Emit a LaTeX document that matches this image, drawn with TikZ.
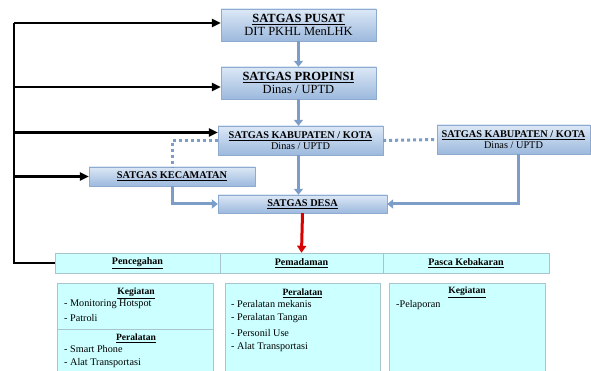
\documentclass[tikz,border=0pt]{standalone}
\usepackage{fontspec}
\setmainfont{Liberation Serif}
\usetikzlibrary{arrows.meta}
\definecolor{boxtop}{HTML}{DCE8F6}
\definecolor{boxbot}{HTML}{9CB9DD}
\definecolor{boxline}{HTML}{8FAACF}
\definecolor{flow}{HTML}{7B9DC8}
\definecolor{cellfill}{HTML}{CCFFFF}
\definecolor{cellline}{HTML}{A8C4CC}
\tikzstyle{satgas} = [rectangle, align=center, draw=boxline, top color=boxtop, bottom color=boxbot, inner sep=0pt]
\tikzstyle{cell} = [rectangle, draw=cellline, fill=cellfill, inner sep=0pt, minimum height=20pt, font=\fontsize{10}{10}\selectfont\bfseries]
\tikzstyle{panel} = [rectangle, draw=cellline, fill=cellfill, inner sep=0pt, anchor=north west]
\tikzstyle{arrow} = [line width=3pt, draw=flow, -{Triangle[width=9pt,length=6pt]}]
\tikzstyle{dotline} = [line width=3pt, draw=flow, dash pattern=on 3pt off 3pt]
\tikzstyle{blackarrow} = [line width=2.2pt, -{Triangle[width=8pt,length=9pt]}]
\tikzstyle{redarrow} = [line width=3pt, draw=red!85!black, -{Triangle[width=9pt,length=7pt]}]
\tikzstyle{item} = [anchor=west, inner sep=0pt, font=\fontsize{10.2}{11}\selectfont]
\tikzstyle{title} = [inner sep=0pt, font=\fontsize{9.6}{10}\selectfont\bfseries]

\begin{document}
\begin{tikzpicture}[x=1pt, y=-1pt]
\useasboundingbox (0,0) rectangle (591,371);
\clip (0,0) rectangle (591,371);

\node(pusat) [satgas, minimum width=155pt, minimum height=32pt, font=\fontsize{12.5}{12.5}\selectfont] at (298.5,25) {\underline{\textbf{SATGAS PUSAT}}\\DIT PKHL MenLHK};
\node(propinsi) [satgas, minimum width=155pt, minimum height=32pt, font=\fontsize{12.5}{12.5}\selectfont] at (298.5,83) {\underline{\textbf{SATGAS PROPINSI}}\\Dinas / UPTD};
\node(kabkota) [satgas, minimum width=165pt, minimum height=29pt, font=\fontsize{10.3}{10.5}\selectfont] at (300.5,140.5) {\underline{\textbf{SATGAS KABUPATEN / KOTA}}\\Dinas / UPTD};
\node(kabkota2) [satgas, minimum width=153pt, minimum height=29pt, font=\fontsize{10.3}{10.5}\selectfont] at (513.5,139.5) {\underline{\textbf{SATGAS KABUPATEN / KOTA}}\\Dinas / UPTD};
\node(kecamatan) [satgas, minimum width=166pt, minimum height=19pt, font=\fontsize{10.3}{10.5}\selectfont] at (172,176.5) {\underline{\textbf{SATGAS KECAMATAN}}};
\node(desa) [satgas, minimum width=169pt, minimum height=18pt, font=\fontsize{10.3}{10.5}\selectfont] at (302.5,204) {\underline{\textbf{SATGAS DESA}}};

\node(cegah) [cell, minimum width=165pt] at (137.5,263) {\underline{Pencegahan}};
\node(padam) [cell, minimum width=163pt] at (301.5,263) {\underline{Pemadaman}};
\node(pasca) [cell, minimum width=166pt] at (466,263) {\underline{Pasca Kebakaran}};

\node(panelA) [panel, minimum width=156pt, minimum height=46pt] at (57,283) {};
\node(panelB) [panel, minimum width=156pt, minimum height=50pt] at (57,329) {};
\node(panelC) [panel, minimum width=155pt, minimum height=96pt] at (225,283) {};
\node(panelD) [panel, minimum width=156pt, minimum height=96pt] at (389,283) {};

\node(kegA) [title] at (136,293) {\underline{Kegiatan}};
\node(monitor) [item] at (64,304) {- Monitoring Hotspot};
\node(patroli) [item] at (64,318.5) {- Patroli};
\node(alatA) [title] at (136,338) {\underline{Peralatan}};
\node(phone) [item] at (64,349.5) {- Smart Phone};
\node(transA) [item] at (64,363.5) {- Alat Transportasi};

\node(alatC) [title] at (302.5,293) {\underline{Peralatan}};
\node(mekanis) [item] at (231,304) {- Peralatan mekanis};
\node(tangan) [item] at (231,318.5) {- Peralatan Tangan};
\node(personil) [item] at (231,333) {- Personil Use};
\node(transC) [item] at (231,347.5) {- Alat Transportasi};

\node(kegD) [title] at (467,292) {\underline{Kegiatan}};
\node(lapor) [item] at (396,305) {-Pelaporan};

\draw [arrow] (pusat) -- (propinsi);
\draw [arrow] (propinsi.south) -- (propinsi.south |- kabkota.north);
\draw [arrow] (propinsi.south |- kabkota.south) -- (propinsi.south |- desa.north);
\draw [arrow] (kecamatan.south) |- (desa.west);
\draw [arrow] ([xshift=5pt]kabkota2.south) |- (desa.east);
\draw [dotline] (kabkota.east) -- (kabkota2.west);
\draw [dotline] (kabkota.west) -| (kecamatan.north);
\draw [redarrow] (desa.south) -- (padam.north);

\coordinate (trunktop) at (14,23);
\coordinate (trunkbot) at (14,263);
\draw [line width=2.2pt] (trunktop) -- (trunkbot) -- (cegah.west);
\draw [blackarrow] (trunktop) -- (trunktop -| pusat.west);
\draw [blackarrow] ([yshift=-4pt]trunktop |- propinsi.west) -- ([yshift=-4pt]propinsi.west);
\draw [blackarrow] ([yshift=8pt]trunktop |- kabkota.west) -- ([yshift=8pt]kabkota.west);
\draw [blackarrow] (trunktop |- kecamatan.west) -- (kecamatan.west);

\end{tikzpicture}
\end{document}
